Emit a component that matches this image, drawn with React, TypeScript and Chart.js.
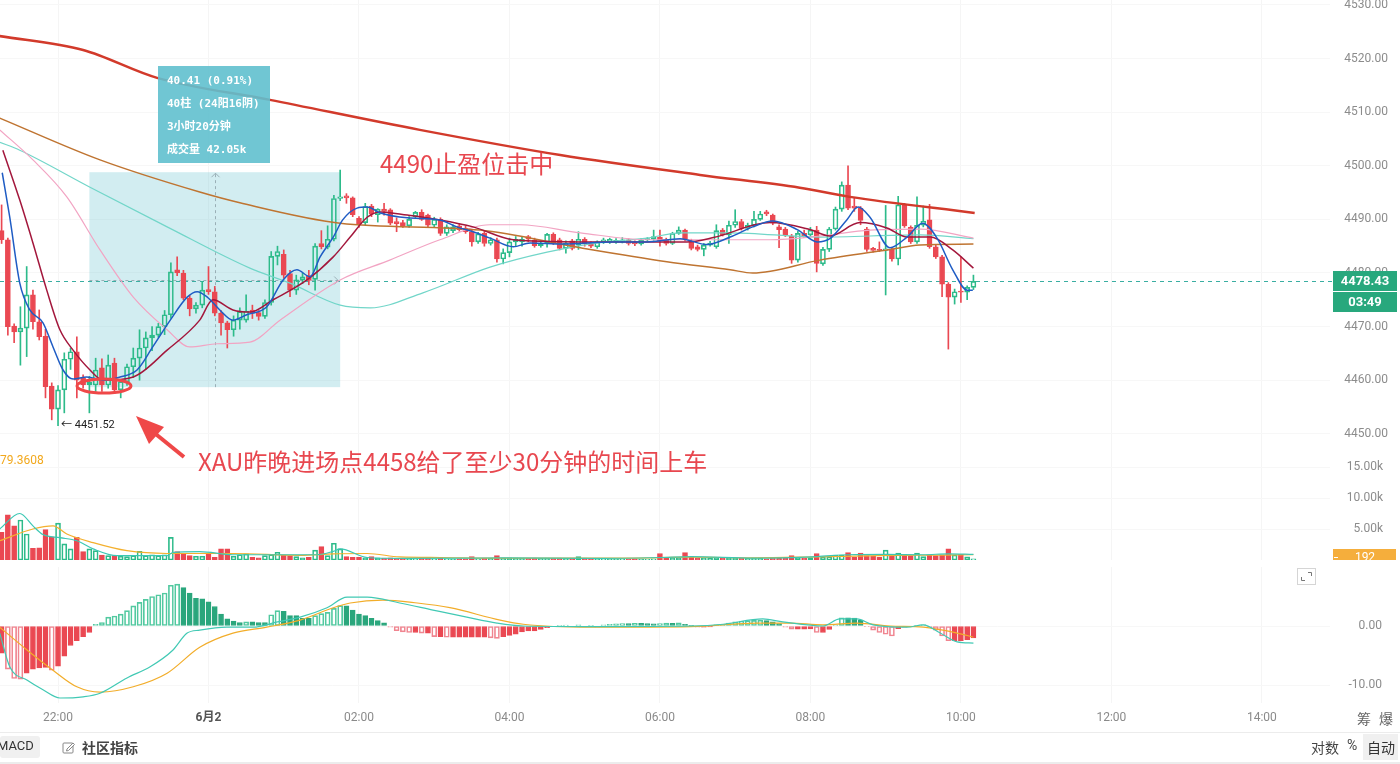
import React, { useEffect, useRef } from "react";
import { Chart, registerables } from "chart.js";

Chart.register(...registerables);

const FONT = "Roboto, 'Noto Sans', 'Noto Sans CJK SC', sans-serif";
const CJK = "'Noto Sans CJK SC', 'Noto Sans', sans-serif";
Chart.defaults.font.family = FONT;

// ---------------- axes ----------------
const xTickIdx = [9, 33, 57, 81, 105, 129, 153, 177, 201];
const xTickLabels = ["22:00", "6月2", "02:00", "04:00", "06:00", "08:00", "10:00", "12:00", "14:00"];
const X_MIN = -0.255;
const X_MAX = 211.87;
const priceTicks = [4450, 4460, 4470, 4480, 4490, 4500, 4510, 4520, 4530];
const volTicks = [5, 10, 15];
const macdTicks = [0, -10];

// ---------------- candles (5 min) ----------------
const opens = [
  4487.9, 4486.2, 4470.1, 4469.0, 4469.7, 4475.9, 4470.9, 4468.2, 4458.9, 4454.6,
  4458.2, 4463.9, 4465.3, 4460.4, 4459.1, 4459.1, 4462.3, 4459.1, 4463.2, 4458.2,
  4459.7, 4462.5, 4464.1, 4466.0, 4467.9, 4468.4, 4470.0, 4472.2, 4480.6, 4480.0,
  4475.3, 4473.3, 4474.0, 4476.9, 4476.5, 4472.5, 4470.7, 4469.4, 4471.2, 4471.2,
  4473.1, 4472.6, 4471.9, 4474.5, 4483.1, 4483.5, 4479.9, 4476.8, 4478.7, 4479.5,
  4478.8, 4485.5, 4484.8, 4486.3, 4493.9, 4494.4, 4494.0, 4490.2, 4489.4, 4492.5,
  4490.9, 4491.9, 4491.8, 4489.6, 4489.4, 4488.8, 4490.5, 4491.3, 4490.8, 4488.9,
  4490.0, 4487.4, 4487.9, 4488.8, 4488.4, 4487.7, 4485.8, 4487.4, 4485.5, 4486.2,
  4482.6, 4483.8, 4485.8, 4485.8, 4486.8, 4486.1, 4485.1, 4485.6, 4487.2, 4486.2,
  4484.6, 4486.0, 4485.2, 4486.3, 4485.6, 4484.9, 4485.8, 4485.9, 4485.8, 4485.9,
  4486.2, 4485.8, 4485.4, 4486.2, 4486.3, 4486.7, 4486.2, 4485.5, 4487.4, 4488.0,
  4486.0, 4484.9, 4484.4, 4485.2, 4484.9, 4488.0, 4487.1, 4488.9, 4489.6, 4488.3,
  4488.9, 4490.0, 4491.4, 4490.8, 4488.6, 4488.2, 4486.9, 4482.4, 4487.4, 4487.1,
  4488.0, 4481.7, 4484.4, 4488.2, 4491.9, 4496.4, 4492.5, 4492.1, 4488.2, 4484.6,
  4484.4, 4484.2, 4484.4, 4482.6, 4492.7, 4488.5, 4485.8, 4488.9, 4489.9, 4484.9,
  4483.0, 4477.9, 4475.5, 4476.6, 4476.4, 4477.3,
];
const highs = [
  4492.7, 4486.5, 4470.5, 4473.7, 4481.2, 4476.8, 4473.1, 4469.5, 4459.5, 4459.0,
  4465.1, 4466.0, 4468.1, 4461.0, 4460.7, 4464.1, 4464.0, 4464.7, 4464.1, 4460.0,
  4463.0, 4466.0, 4469.4, 4469.0, 4470.0, 4470.6, 4473.0, 4481.9, 4483.0, 4480.5,
  4475.8, 4474.5, 4478.4, 4481.2, 4477.5, 4473.0, 4471.0, 4472.0, 4473.5, 4475.9,
  4474.0, 4473.0, 4475.0, 4484.0, 4485.0, 4484.3, 4480.5, 4479.6, 4480.0, 4480.5,
  4485.5, 4487.9, 4488.8, 4494.5, 4499.2, 4494.8, 4494.2, 4490.5, 4493.0, 4492.8,
  4492.0, 4493.0, 4492.0, 4490.3, 4489.8, 4490.5, 4491.5, 4491.8, 4491.0, 4490.4,
  4490.3, 4489.0, 4489.0, 4489.2, 4488.8, 4488.0, 4487.6, 4487.8, 4486.6, 4486.5,
  4484.5, 4486.5, 4486.8, 4486.8, 4487.0, 4486.5, 4486.0, 4487.4, 4487.5, 4486.5,
  4486.0, 4486.3, 4487.7, 4486.6, 4485.8, 4486.0, 4486.5, 4486.5, 4486.4, 4486.6,
  4486.4, 4486.0, 4486.4, 4486.6, 4488.0, 4488.0, 4486.5, 4487.6, 4488.6, 4488.2,
  4486.3, 4485.2, 4485.5, 4485.9, 4489.0, 4488.3, 4489.7, 4491.8, 4490.0, 4489.3,
  4491.5, 4491.5, 4491.7, 4491.0, 4489.0, 4488.5, 4487.2, 4487.8, 4488.0, 4488.5,
  4488.7, 4484.8, 4488.5, 4492.3, 4497.0, 4500.0, 4494.0, 4492.4, 4488.5, 4484.8,
  4485.8, 4492.6, 4484.8, 4494.3, 4493.0, 4488.8, 4494.2, 4492.5, 4492.8, 4485.2,
  4483.3, 4478.2, 4477.0, 4483.0, 4477.6, 4479.6,
];
const lows = [
  4485.5, 4468.4, 4467.0, 4462.8, 4464.4, 4469.5, 4467.5, 4456.7, 4452.6, 4451.52,
  4453.9, 4462.0, 4456.7, 4458.5, 4453.9, 4457.9, 4457.9, 4458.5, 4457.5, 4456.7,
  4459.0, 4460.5, 4460.0, 4462.0, 4465.5, 4468.0, 4468.5, 4471.5, 4479.5, 4475.0,
  4472.0, 4472.5, 4473.5, 4476.0, 4472.0, 4468.4, 4466.0, 4468.2, 4469.5, 4470.8,
  4471.5, 4471.2, 4471.5, 4474.0, 4481.5, 4479.0, 4475.6, 4476.0, 4478.0, 4477.8,
  4476.8, 4484.5, 4484.5, 4486.0, 4493.5, 4493.0, 4490.5, 4488.5, 4489.0, 4490.5,
  4489.5, 4490.8, 4489.0, 4487.7, 4488.5, 4488.5, 4490.2, 4489.8, 4488.5, 4488.5,
  4487.0, 4487.0, 4487.5, 4487.8, 4487.4, 4485.0, 4485.5, 4485.0, 4485.2, 4482.0,
  4481.7, 4483.0, 4485.0, 4485.0, 4485.8, 4484.8, 4484.8, 4484.8, 4485.3, 4484.3,
  4483.7, 4484.3, 4484.4, 4485.0, 4484.7, 4484.6, 4485.5, 4485.5, 4485.5, 4485.6,
  4485.2, 4485.1, 4485.2, 4486.0, 4486.1, 4485.0, 4485.2, 4485.3, 4487.2, 4486.0,
  4484.3, 4484.1, 4483.2, 4485.0, 4484.6, 4486.9, 4485.5, 4488.5, 4488.0, 4488.0,
  4488.6, 4489.8, 4490.7, 4489.0, 4484.7, 4486.8, 4481.8, 4482.0, 4486.6, 4486.8,
  4480.2, 4481.4, 4484.0, 4488.0, 4491.5, 4491.8, 4491.5, 4489.0, 4484.0, 4483.9,
  4484.0, 4475.9, 4482.2, 4481.5, 4488.5, 4485.5, 4485.5, 4488.6, 4484.6, 4482.7,
  4475.6, 4465.8, 4474.2, 4474.5, 4475.0, 4476.9,
];
const closes = [
  4486.2, 4470.0, 4469.0, 4469.7, 4475.9, 4470.9, 4468.1, 4458.8, 4454.6, 4458.2,
  4463.9, 4465.3, 4460.0, 4459.1, 4459.6, 4461.9, 4459.1, 4462.8, 4458.2, 4459.7,
  4462.5, 4464.1, 4466.0, 4467.9, 4468.4, 4470.0, 4472.2, 4480.2, 4480.0, 4475.3,
  4473.3, 4474.0, 4476.8, 4476.5, 4472.5, 4470.7, 4469.4, 4471.2, 4472.8, 4472.9,
  4472.5, 4471.9, 4474.5, 4483.1, 4484.0, 4479.6, 4476.8, 4478.7, 4479.3, 4478.6,
  4485.0, 4484.9, 4486.3, 4493.9, 4494.2, 4494.0, 4490.9, 4489.2, 4492.4, 4491.0,
  4491.9, 4491.5, 4489.3, 4489.2, 4488.8, 4490.0, 4491.3, 4490.0, 4488.9, 4490.0,
  4487.4, 4488.6, 4488.6, 4488.1, 4487.7, 4485.8, 4487.3, 4485.5, 4486.2, 4482.6,
  4483.8, 4485.8, 4486.3, 4486.3, 4486.3, 4485.1, 4485.6, 4487.2, 4485.6, 4484.6,
  4485.6, 4484.6, 4486.3, 4485.4, 4485.0, 4485.8, 4486.2, 4486.3, 4486.1, 4486.2,
  4485.5, 4485.4, 4486.2, 4486.4, 4486.8, 4486.0, 4485.5, 4487.4, 4488.0, 4486.3,
  4484.6, 4484.4, 4485.2, 4485.6, 4487.9, 4487.1, 4488.9, 4489.6, 4488.3, 4488.9,
  4490.0, 4491.0, 4491.0, 4489.3, 4488.1, 4487.1, 4482.4, 4487.4, 4486.9, 4488.0,
  4481.8, 4484.4, 4488.2, 4491.9, 4496.4, 4492.1, 4492.1, 4489.8, 4484.4, 4484.2,
  4484.2, 4484.5, 4482.6, 4492.7, 4488.8, 4485.8, 4488.9, 4489.7, 4484.9, 4483.0,
  4477.9, 4475.5, 4476.5, 4476.4, 4477.3, 4478.43,
];

// volume, thousands
const volumes = [
  4.45, 7.3, 5.5, 6.45, 4.2, 1.9, 1.95, 4.9, 3.75, 5.95,
  2.6, 1.8, 3.65, 1.35, 1.8, 1.5, 0.8, 0.7, 0.7, 0.6,
  0.55, 0.7, 1.4, 0.7, 0.85, 0.7, 0.85, 3.65, 1.35, 1.0,
  0.7, 0.6, 0.6, 1.0, 0.45, 1.8, 1.8, 0.6, 0.85, 1.0,
  0.45, 0.35, 0.7, 0.85, 1.25, 0.8, 0.7, 0.55, 0.35, 0.45,
  1.6, 2.15, 0.7, 2.7, 1.8, 0.55, 0.45, 0.45, 0.35, 0.55,
  0.35, 0.3, 0.35, 0.25, 0.3, 0.25, 0.2, 0.3, 0.3, 0.2,
  0.35, 0.2, 0.15, 0.2, 0.2, 0.55, 0.2, 0.3, 0.25, 0.7,
  0.3, 0.35, 0.3, 0.3, 0.25, 0.3, 0.25, 0.3, 0.25, 0.3,
  0.25, 0.3, 0.55, 0.3, 0.25, 0.3, 0.2, 0.15, 0.15, 0.2,
  0.15, 0.2, 0.15, 0.1, 0.2, 1.05, 0.45, 0.3, 0.35, 1.2,
  0.45, 0.35, 0.3, 0.25, 0.45, 0.3, 0.35, 0.35, 0.3, 0.25,
  0.3, 0.25, 0.2, 0.3, 0.25, 0.35, 0.7, 0.45, 0.3, 0.4,
  1.05, 0.5, 0.55, 0.8, 0.8, 1.2, 0.45, 1.1, 0.7, 0.65,
  0.45, 1.6, 0.6, 1.1, 0.8, 0.7, 1.1, 0.55, 0.8, 0.7,
  0.8, 1.8, 0.8, 0.9, 0.5, 0.192,
];

// MACD histogram
const macdHist = [
  -4.6, -7.3, -8.9, -9.0, -8.0, -7.3, -7.1, -7.0, -7.5, -6.8,
  -5.1, -3.3, -2.5, -1.8, -1.1, 0.3, 0.6, 1.5, 1.7, 2.0,
  2.6, 3.4, 4.0, 4.5, 5.0, 5.3, 5.6, 6.9, 7.1, 6.5,
  5.6, 4.7, 4.6, 4.1, 3.3, 2.0, 1.2, 0.85, 0.6, 0.7,
  0.7, 0.6, 0.6, 1.9, 2.6, 2.5, 1.75, 1.75, 1.3, 1.3,
  1.75, 2.1, 2.3, 3.0, 3.45, 3.4, 2.7, 2.0, 1.75, 1.3,
  0.9, 0.55, -0.2, -0.8, -1.0, -1.1, -1.1, -1.2, -1.2, -1.8,
  -1.8, -1.9, -1.9, -1.9, -1.9, -1.9, -1.9, -1.9, -2.0, -2.1,
  -1.8, -1.6, -1.4, -1.0, -0.85, -0.85, -0.56, -0.3, -0.1, 0.1,
  0.15, -0.1, 0.2, -0.15, 0.1, -0.2, 0.2, 0.3, 0.35, 0.4,
  0.4, 0.45, 0.45, 0.4, 0.35, 0.4, 0.5, 0.45, 0.55, 0.3,
  0.1, -0.2, -0.2, -0.15, 0.2, 0.3, 0.5, 0.7, 0.85, 0.9,
  0.95, 1.0, 0.9, 0.7, 0.4, -0.2, -0.55, -0.55, -0.55, -0.5,
  -1.1, -1.1, -0.6, 0.2, 1.4, 1.4, 1.35, 1.0, -0.1, -0.7,
  -1.1, -1.4, -1.7, -0.45, -0.2, -0.1, 0.1, 0.2, -0.1, -0.7,
  -1.7, -2.5, -2.5, -2.5, -2.3, -2.0,
];

// moving-average lines: [bar index, value]
const maRedLong = [[-0.3, 4524.2], [13, 4521.6], [24.8, 4516.4], [42.8, 4512.3], [66.7, 4506.7], [89.1, 4502.0], [111.4, 4498.3], [127.3, 4495.9], [135.3, 4494.2], [155.2, 4491.2]];
const maBrown = [[-0.3, 4508.9], [15.7, 4501.1], [31.6, 4495.1], [38, 4493.1], [54, 4489.3], [76.3, 4488.0], [92.3, 4484.7], [106.1, 4482.1], [116.2, 4480.6], [119.8, 4480.0], [130.5, 4482.4], [141.2, 4484.3], [146.5, 4485.2], [155, 4485.4]];
const maTeal = [[-0.3, 4504.4], [2.9, 4502.9], [14.1, 4496.0], [26.4, 4488.6], [39.6, 4480.9], [46, 4478.1], [54, 4474.0], [58.8, 4473.5], [67.2, 4476.3], [77.9, 4481.1], [87, 4483.9], [95, 4485.6], [102.9, 4486.5], [108.2, 4487.5], [116.2, 4487.5], [130.5, 4486.7], [146.5, 4487.1], [155, 4486.4]];
const maPink = [[-0.3, 4506.7], [5, 4501.1], [10.4, 4494.2], [15.7, 4484.3], [21, 4475.5], [26.4, 4469.4], [30, 4466.2], [34.4, 4466.8], [39.6, 4467.1], [44.4, 4471.2], [54, 4478.7], [61.9, 4482.4], [69.9, 4486.2], [77.9, 4489.0], [82.7, 4489.0], [92.3, 4487.5], [102.9, 4486.2], [110.9, 4486.2], [122.6, 4486.2], [130.5, 4486.9], [138.5, 4488.0], [146.5, 4488.2], [155, 4486.5]];
const maDarkRed = [[0.2, 4502.9], [2.9, 4493.6], [5, 4485.6], [7.2, 4476.8], [9.3, 4469.4], [11.4, 4465.6], [14.1, 4461.9], [16.2, 4460.0], [21, 4460.6], [26.4, 4465.6], [31.6, 4471.2], [33.7, 4475.0], [36.9, 4473.1], [39.6, 4472.7], [43.3, 4475.0], [48.7, 4478.7], [52.9, 4483.0], [55.6, 4486.7], [58.3, 4490.4], [60.4, 4491.4], [64.7, 4490.8], [69.9, 4489.9], [75.2, 4488.6], [81.6, 4486.2], [92.3, 4485.8], [109.3, 4485.8], [113.5, 4486.6], [122.6, 4489.4], [128.9, 4488.1], [132.1, 4486.9], [136.9, 4489.4], [141.2, 4488.4], [144.4, 4486.7], [148.1, 4486.7], [151.7, 4484.3], [155, 4480.9]];
const maBlue = [[0.1, 4498.7], [1.3, 4490.4], [2.9, 4478.1], [4.5, 4473.1], [6.6, 4470.7], [8.2, 4466.2], [9.8, 4461.9], [11.4, 4460.2], [13.6, 4460.6], [16.2, 4460.0], [18.9, 4460.6], [21.6, 4461.9], [24.1, 4466.2], [26.9, 4471.2], [29.6, 4475.5], [31.2, 4476.5], [32.8, 4475.5], [34.8, 4473.1], [36.9, 4471.2], [39.1, 4472.2], [42.3, 4473.7], [44.9, 4478.7], [47.1, 4480.6], [49.2, 4479.3], [50.8, 4483.0], [52.9, 4486.7], [54.4, 4489.9], [56.7, 4492.1], [58.3, 4492.3], [60.4, 4491.2], [64.7, 4490.3], [69.9, 4489.9], [72.6, 4488.6], [75.2, 4487.7], [77.9, 4486.5], [81.6, 4484.9], [84.3, 4485.6], [89.5, 4485.4], [97.5, 4485.8], [102.9, 4485.8], [108.2, 4486.4], [112.5, 4485.3], [116.2, 4486.7], [119.8, 4488.6], [123, 4489.7], [126.9, 4488.1], [130.1, 4485.8], [132.1, 4486.4], [134.8, 4489.9], [136.6, 4492.3], [138.5, 4490.4], [141.7, 4484.7], [144.4, 4486.7], [146.9, 4489.3], [149.2, 4486.5], [151.7, 4480.6], [154, 4476.8], [154.9, 4476.8]];

const volMaTeal = [[-0.3, 5.0], [2.9, 7.5], [5.0, 5.5], [6.6, 4.1], [9.3, 3.6], [12.0, 3.1], [14.6, 1.8], [18.4, 0.7], [26.4, 0.7], [27.3, 1.2], [31.6, 1.35], [36.9, 0.85], [50.3, 0.85], [52.9, 1.4], [54, 1.8], [58.3, 0.4], [63.5, 0.25], [75, 0.3], [80, 0.35], [95, 0.25], [105, 0.4], [110, 0.55], [120, 0.3], [130, 0.55], [135, 0.85], [141, 0.9], [147, 0.85], [151, 1.0], [155, 0.9]];
const volMaOrange = [[-0.3, 3.1], [5.0, 5.0], [8.2, 5.5], [10.4, 4.2], [14.6, 2.8], [20, 1.5], [26.4, 1.05], [37, 1.05], [47.6, 0.75], [52.9, 1.0], [58.3, 1.05], [63.5, 0.5], [70, 0.4], [80, 0.3], [100, 0.3], [110, 0.45], [120, 0.35], [130, 0.5], [140, 0.7], [150, 0.8], [155, 0.85]];

const macdDif = [[-0.3, -1.2], [1.3, -6.9], [4.1, -9.2], [6.6, -10.8], [9.3, -12.2], [13.0, -12.0], [15.7, -11.4], [20, -8.8], [23.7, -6.9], [27.3, -4.1], [29.6, -1.2], [31.6, -0.7], [35.9, -0.2], [40.1, -0.2], [44, 0.7], [47.6, 1.5], [51.9, 3.1], [55.1, 4.9], [58.3, 4.9], [63.5, 3.9], [68.8, 2.7], [74.2, 1.5], [79, 0.5], [83.2, 0], [94, -0.1], [110, 0], [115.1, 0.3], [121.4, 1.2], [124.6, 0.7], [131, 0], [133.7, 1.2], [136.4, 1.2], [139, 0.2], [144.4, -0.2], [147, 0.2], [149.7, -1.2], [152.4, -2.7], [155, -2.9]];
const macdDea = [[-0.3, -0.2], [4.1, -4.1], [8.2, -7.5], [12, -10.3], [15.7, -11.2], [21, -10.3], [26.4, -8.0], [31.6, -3.6], [36.9, -1.2], [42.3, -0.2], [47.6, 1.0], [52.9, 3.1], [55.6, 3.9], [60.8, 4.4], [66.3, 3.9], [71.5, 3.1], [79.5, 1.0], [83.2, 0.3], [94, -0.2], [110, -0.1], [120.5, 0.5], [125.7, 0.5], [131, 0.2], [136.4, 0.5], [141.7, 0], [147, -0.2], [152.4, -1.2], [155, -1.9]];

// measurement (date & price range) tool
const measureFrom = 14;
const measureTo = 53;
const measureHigh = 4498.8;
const measureLow = 4458.7;
const countdown = "03:49";

// ---------------- styles ----------------
const UP = "#2dbb8a";
const DOWN = "#ea4852";
const RED_HOLLOW = "#f08590";
const GREEN_FILL = "#2aa67c";
const GREEN_HOLLOW = "#52c9a0";
const PLOT_RIGHT = 1330;

const isUp = (i: number) => closes[i] >= opens[i];
const pts = (a: number[][]) => a.map(([x, y]) => ({ x, y }));

function xAxis(labels: boolean): any {
  return {
    type: "linear",
    min: X_MIN,
    max: X_MAX,
    offset: false,
    grid: { color: "#f5f5f5", drawTicks: false, offset: false },
    border: { display: false },
    afterBuildTicks: (s: any) => {
      s.ticks = xTickIdx.map((v) => ({ value: v }));
    },
    afterFit: (s: any) => {
      s.height = labels ? 29 : 0;
      s.paddingLeft = 0;
      s.paddingRight = 0;
    },
    ticks: labels
      ? {
          autoSkip: false,
          maxRotation: 0,
          padding: 8,
          callback: (v: any) => {
            const k = xTickIdx.indexOf(Number(v));
            return k >= 0 ? xTickLabels[k] : "";
          },
          color: (c: any) => (c.index === 1 ? "#555" : "#8a8a8a"),
          font: (c: any) => ({ family: FONT, size: 12, weight: c.index === 1 ? "bold" : "normal" }),
        }
      : { display: false },
  };
}

// labelRight: pixel where the right-aligned tick labels end
function yAxis(min: number, max: number, tickVals: number[], fmt: (v: number) => string, labelRight: number): any {
  return {
    type: "linear",
    position: "right",
    min,
    max,
    afterBuildTicks: (s: any) => {
      s.ticks = tickVals.map((v) => ({ value: v }));
    },
    afterFit: (s: any) => {
      s.width = labelRight - PLOT_RIGHT;
      s.paddingTop = 0;
      s.paddingBottom = 0;
    },
    grid: { color: "#f7f7f7", drawTicks: false },
    border: { display: false },
    ticks: {
      padding: 4,
      crossAlign: "far",
      color: "#8c8c8c",
      font: { family: FONT, size: 12 },
      callback: (v: any) => fmt(Number(v)),
    },
  };
}

function baseOptions(labelRight: number): any {
  return {
    responsive: false,
    maintainAspectRatio: false,
    animation: false,
    devicePixelRatio: 1,
    events: [],
    layout: { padding: { left: 0, top: 0, bottom: 0, right: 1400 - labelRight } },
    plugins: { legend: { display: false }, tooltip: { enabled: false } },
  };
}

function lineDs(a: number[][], color: string, width: number, order: number): any {
  return {
    type: "line",
    data: pts(a),
    borderColor: color,
    borderWidth: width,
    pointRadius: 0,
    fill: false,
    cubicInterpolationMode: "monotone",
    order,
  };
}

const mainOverlay = {
  id: "mainOverlay",
  beforeDatasetsDraw(chart: any) {
    const { ctx, chartArea } = chart;
    const x = chart.scales.x;
    const y = chart.scales.y;
    const l = x.getPixelForValue(measureFrom);
    const r = x.getPixelForValue(measureTo + 1);
    const t = y.getPixelForValue(measureHigh);
    const b = y.getPixelForValue(measureLow);
    ctx.save();
    ctx.fillStyle = "rgba(118,200,214,0.33)";
    ctx.fillRect(l, t, r - l, b - t);
    const mx = Math.round((l + r) / 2) + 0.5;
    const my = Math.round((t + b) / 2) + 0.5;
    ctx.strokeStyle = "rgba(110,125,135,0.55)";
    ctx.lineWidth = 1;
    ctx.setLineDash([3, 3]);
    ctx.beginPath();
    ctx.moveTo(mx, b);
    ctx.lineTo(mx, t + 1);
    ctx.moveTo(l, my);
    ctx.lineTo(r - 2, my);
    ctx.stroke();
    ctx.setLineDash([]);
    ctx.beginPath();
    ctx.moveTo(mx - 4, t + 5);
    ctx.lineTo(mx, t + 1);
    ctx.lineTo(mx + 4, t + 5);
    ctx.moveTo(r - 6, my - 4);
    ctx.lineTo(r - 2, my);
    ctx.lineTo(r - 6, my + 4);
    ctx.stroke();
    const py = Math.round(y.getPixelForValue(closes[closes.length - 1])) + 0.5;
    ctx.strokeStyle = "#3aaea2";
    ctx.setLineDash([4, 4]);
    ctx.beginPath();
    ctx.moveTo(chartArea.left, py);
    ctx.lineTo(chartArea.right + 3, py);
    ctx.stroke();
    ctx.restore();
  },
  afterDatasetsDraw(chart: any) {
    const { ctx } = chart;
    const x = chart.scales.x;
    const y = chart.scales.y;
    const minLow = Math.min(...lows);
    const i = lows.indexOf(minLow);
    ctx.save();
    ctx.fillStyle = "#222";
    ctx.font = `11px ${FONT}`;
    ctx.textBaseline = "middle";
    ctx.textAlign = "left";
    ctx.fillText(`← ${minLow.toFixed(2)}`, x.getPixelForValue(i) + 3, y.getPixelForValue(minLow));
    ctx.restore();
  },
  afterDraw(chart: any) {
    const { ctx, chartArea } = chart;
    const y = chart.scales.y;
    const py = Math.round(y.getPixelForValue(closes[closes.length - 1]));
    const bx = chartArea.right + 3;
    ctx.save();
    ctx.fillStyle = "#28a87d";
    ctx.fillRect(bx, py - 10, 64, 20);
    ctx.fillRect(bx, py + 11, 64, 20);
    ctx.fillStyle = "#fff";
    ctx.font = `bold 13px ${FONT}`;
    ctx.textAlign = "center";
    ctx.textBaseline = "middle";
    ctx.fillText(closes[closes.length - 1].toFixed(2), bx + 32, py + 0.5);
    ctx.fillText(countdown, bx + 32, py + 21.5);
    ctx.restore();
  },
};

const volOverlay = {
  id: "volOverlay",
  afterDraw(chart: any) {
    const { ctx, chartArea } = chart;
    const y = chart.scales.y;
    const v = volumes[volumes.length - 1];
    const py = Math.round(y.getPixelForValue(v)) - 2;
    const bx = chartArea.right + 3;
    ctx.save();
    ctx.fillStyle = "#f5ae3c";
    ctx.fillRect(bx, py - 8, 63, 17);
    ctx.fillStyle = "#fff";
    ctx.fillRect(bx + 1, py, 4, 1);
    ctx.font = `12px ${FONT}`;
    ctx.textAlign = "center";
    ctx.textBaseline = "middle";
    ctx.fillText(String(Math.round(v * 1000)), bx + 32, py + 0.5);
    ctx.restore();
  },
};

function makeMain(canvas: HTMLCanvasElement) {
  const idx = opens.map((_, i) => i);
  const col = idx.map((i) => (isUp(i) ? UP : DOWN));
  const upperWick = idx.map((i) => ({ x: i, y: [Math.max(opens[i], closes[i]), highs[i]] }));
  const lowerWick = idx.map((i) => ({ x: i, y: [lows[i], Math.min(opens[i], closes[i])] }));
  const body = idx.map((i) => ({ x: i, y: [opens[i], closes[i]] }));
  return new Chart(canvas, {
    type: "bar",
    data: {
      datasets: [
        { type: "bar", data: upperWick, backgroundColor: col, barThickness: 1, grouped: false, order: 12 } as any,
        { type: "bar", data: lowerWick, backgroundColor: col, barThickness: 1, grouped: false, order: 11 } as any,
        {
          type: "bar",
          data: body,
          backgroundColor: idx.map((i) => (isUp(i) ? "rgba(255,255,255,0)" : DOWN)),
          borderColor: col,
          borderWidth: 1,
          borderSkipped: false,
          barThickness: 5,
          grouped: false,
          order: 10,
        } as any,
        lineDs(maTeal, "#72d6c9", 1.2, 6),
        lineDs(maPink, "#f2a4c3", 1.2, 5),
        lineDs(maBrown, "#bf7431", 1.5, 4),
        lineDs(maDarkRed, "#a3173c", 1.5, 3),
        lineDs(maBlue, "#1f5cc4", 1.5, 2),
        lineDs(maRedLong, "#d23a2b", 2.5, 1),
      ],
    },
    options: {
      ...baseOptions(1388),
      scales: {
        x: xAxis(false),
        y: yAxis(4446.04, 4530.93, priceTicks, (v) => v.toFixed(2), 1388),
      },
    } as any,
    plugins: [mainOverlay],
  });
}

function makeVol(canvas: HTMLCanvasElement) {
  const idx = volumes.map((_, i) => i);
  return new Chart(canvas, {
    type: "bar",
    data: {
      datasets: [
        {
          type: "bar",
          data: idx.map((i) => ({ x: i, y: volumes[i] })),
          backgroundColor: idx.map((i) => (isUp(i) ? "rgba(255,255,255,0)" : DOWN)),
          borderColor: idx.map((i) => (isUp(i) ? UP : DOWN)),
          borderWidth: 1,
          borderSkipped: false,
          barThickness: 5,
          grouped: false,
          order: 5,
        } as any,
        lineDs(volMaOrange, "#f4b02e", 1.2, 2),
        lineDs(volMaTeal, "#3cc8b4", 1.2, 1),
      ],
    },
    options: {
      ...baseOptions(1383),
      scales: {
        x: xAxis(false),
        y: yAxis(0, 16.94, volTicks, (v) => `${v.toFixed(2)}k`, 1383),
      },
    } as any,
    plugins: [volOverlay],
  });
}

function makeMacd(canvas: HTMLCanvasElement) {
  const idx = macdHist.map((_, i) => i);
  const hollow = idx.map((i) => {
    const v = macdHist[i];
    const p = i > 0 ? macdHist[i - 1] : v;
    return v >= 0 ? v > p : v < p;
  });
  return new Chart(canvas, {
    type: "bar",
    data: {
      datasets: [
        {
          type: "bar",
          data: idx.map((i) => ({ x: i, y: macdHist[i] })),
          backgroundColor: idx.map((i) =>
            hollow[i] ? "rgba(255,255,255,0)" : macdHist[i] >= 0 ? GREEN_FILL : DOWN
          ),
          borderColor: idx.map((i) =>
            macdHist[i] >= 0 ? (hollow[i] ? GREEN_HOLLOW : GREEN_FILL) : hollow[i] ? RED_HOLLOW : DOWN
          ),
          borderWidth: 1,
          borderSkipped: false,
          barThickness: 5,
          grouped: false,
          order: 5,
        } as any,
        lineDs(macdDea, "#f2ad2a", 1.2, 2),
        lineDs(macdDif, "#41c9b4", 1.2, 1),
      ],
    },
    options: {
      ...baseOptions(1382),
      scales: {
        x: xAxis(true),
        y: yAxis(-13.05, 10.0, macdTicks, (v) => v.toFixed(2), 1382),
      },
    } as any,
  });
}

export default function App() {
  const mainRef = useRef<HTMLCanvasElement>(null);
  const volRef = useRef<HTMLCanvasElement>(null);
  const macdRef = useRef<HTMLCanvasElement>(null);

  useEffect(() => {
    const charts = [
      makeMain(mainRef.current as HTMLCanvasElement),
      makeVol(volRef.current as HTMLCanvasElement),
      makeMacd(macdRef.current as HTMLCanvasElement),
    ];
    return () => charts.forEach((c) => c.destroy());
  }, []);

  const abs = (o: any): any => ({ position: "absolute", ...o });

  return (
    <div style={abs({ left: 0, top: 0, width: 1400, height: 764, background: "#fff", overflow: "hidden", fontFamily: CJK })}>
      <canvas ref={mainRef} width={1400} height={455} style={abs({ left: 0, top: 0, width: 1400, height: 455 })} />
      <canvas ref={volRef} width={1400} height={105} style={abs({ left: 0, top: 455, width: 1400, height: 105 })} />
      <canvas ref={macdRef} width={1400} height={165} style={abs({ left: 0, top: 567, width: 1400, height: 165 })} />

      {/* measurement tooltip */}
      <div
        style={abs({
          left: 158,
          top: 66,
          width: 112,
          height: 97,
          background: "rgba(96,192,206,0.9)",
          color: "#fff",
          font: "bold 11px 'DejaVu Sans Mono', 'Noto Sans CJK SC', monospace",
          lineHeight: "23px",
          padding: "3px 0 0 9px",
          boxSizing: "border-box",
          whiteSpace: "nowrap",
        })}
      >
        <div>40.41 (0.91%)</div>
        <div>40柱 (24阳16阴)</div>
        <div>3小时20分钟</div>
        <div>成交量 42.05k</div>
      </div>

      {/* annotations */}
      <div style={abs({ left: 380, top: 150, fontSize: 24, lineHeight: "26px", color: "#e8474f", whiteSpace: "nowrap" })}>4490止盈位击中</div>
      <div style={abs({ left: 198, top: 448, fontSize: 24, lineHeight: "26px", color: "#e8474f", whiteSpace: "nowrap" })}>
        XAU昨晚进场点4458给了至少30分钟的时间上车
      </div>
      <svg width={1400} height={764} style={abs({ left: 0, top: 0, pointerEvents: "none" })}>
        <ellipse cx={104} cy={386} rx={27} ry={7} fill="none" stroke="#ef4848" strokeWidth={3} />
        <line x1={184} y1={457} x2={152} y2={431} stroke="#ef4848" strokeWidth={4} />
        <polygon points="136,416 164,427 149,444" fill="#ef4848" />
      </svg>
      <div style={abs({ left: 0, top: 453, fontSize: 12, color: "#f2a81c", fontFamily: FONT })}>79.3608</div>

      {/* expand icon */}
      <svg width={19} height={17} style={abs({ left: 1297, top: 568 })}>
        <rect x={0.5} y={0.5} width={18} height={16} fill="#fff" stroke="#d5d5d5" />
        <path d="M11 4.5 H14.5 V8 M4.5 9 V12.5 H8" fill="none" stroke="#777" strokeWidth={1} />
      </svg>

      <div style={abs({ left: 1357, top: 708, fontSize: 14, color: "#666", whiteSpace: "nowrap", letterSpacing: 0 })}>
        筹<span style={{ marginLeft: 8 }}>爆</span>
      </div>

      {/* bottom toolbar */}
      <div style={abs({ left: 0, top: 732, width: 1400, height: 1, background: "#ececec" })} />
      <div style={abs({ left: 0, top: 762, width: 1400, height: 2, background: "#ececec" })} />
      <div style={abs({ left: 0, top: 736, width: 40, height: 22, background: "#f0f0f0", borderRadius: 3 })} />
      <div style={abs({ left: -3, top: 738, fontSize: 13, color: "#333", fontFamily: FONT })}>MACD</div>
      <svg width={14} height={14} style={abs({ left: 62, top: 741 })}>
        <rect x={1} y={2} width={10} height={10} rx={1} fill="none" stroke="#888" strokeWidth={1} />
        <path d="M5 8 L11 2 L12.5 3.5 L6.5 9.5 L4.5 10 Z" fill="#fff" stroke="#888" strokeWidth={1} />
      </svg>
      <div style={abs({ left: 82, top: 737, fontSize: 14, fontWeight: 700, color: "#444" })}>社区指标</div>
      <div style={abs({ left: 1311, top: 737, fontSize: 14, color: "#444" })}>对数</div>
      <div style={abs({ left: 1347, top: 737, fontSize: 14, color: "#444", fontFamily: FONT })}>%</div>
      <div style={abs({ left: 1363, top: 734, width: 35, height: 26, background: "#f0f0f0" })} />
      <div style={abs({ left: 1367, top: 737, fontSize: 14, color: "#333" })}>自动</div>
    </div>
  );
}
